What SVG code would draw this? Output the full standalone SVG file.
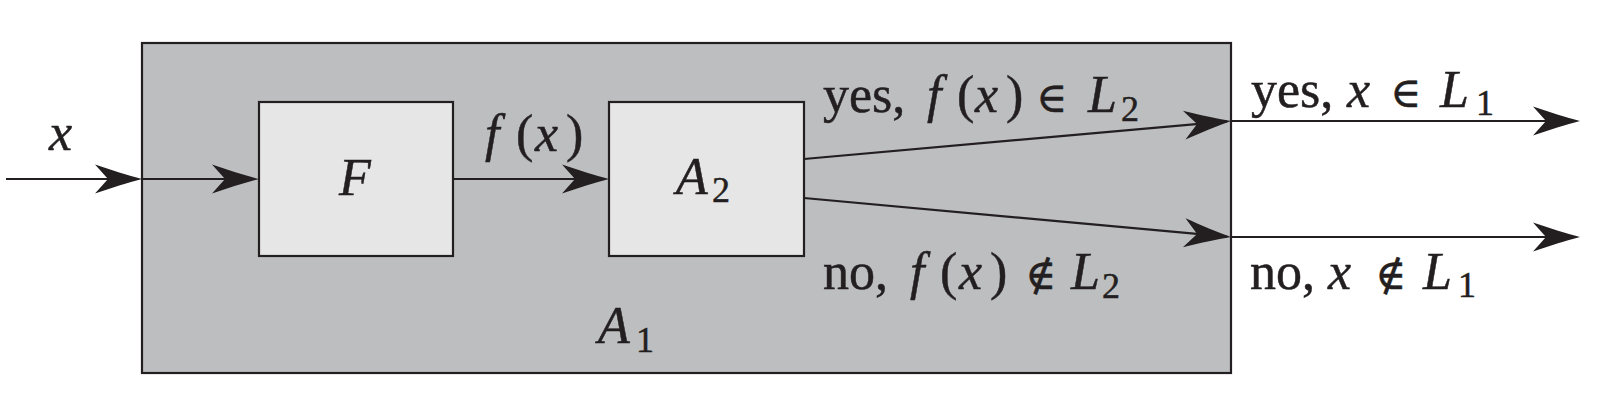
<svg xmlns="http://www.w3.org/2000/svg" width="1600" height="416" viewBox="0 0 1600 416">
<style>
.box{stroke:#231f20;stroke-width:2.2}
.outer{fill:#bdbec0}
.inner{fill:#e6e6e7}
.ln{stroke:#231f20;stroke-width:2.2;fill:none}
.t{font-family:"Liberation Serif","DejaVu Serif",serif;font-size:52px;fill:#231f20;stroke:#231f20;stroke-width:0.5}
.i{font-style:italic}
.s{font-size:36px}
.sym{font-family:"DejaVu Serif","Liberation Serif",serif;font-size:42px}
</style>
<defs>
<marker id="ah" markerUnits="userSpaceOnUse" viewBox="-48 -16 54 32" refX="0" refY="0" markerWidth="54" markerHeight="32" orient="auto" overflow="visible">
<path d="M4,0 C-10,-3.5 -27,-9 -43,-14.5 L-30,0 L-43,14.5 C-27,9 -10,3.5 4,0 Z" fill="#231f20"/>
</marker>
</defs>
<rect width="1600" height="416" fill="#ffffff"/>
<g id="A1">
<rect class="box outer" x="142" y="43" width="1089" height="330"/>
<text class="t i" x="598" y="343">A<tspan class="s" font-style="normal" x="636" y="352">1</tspan></text>
</g>
<g id="F">
<rect class="box inner" x="259" y="102" width="194" height="154"/>
<text class="t i" x="339" y="195">F</text>
</g>
<g id="A2">
<rect class="box inner" x="609" y="102" width="195" height="154"/>
<text class="t i" x="676" y="194">A<tspan class="s" font-style="normal" x="712" y="202">2</tspan></text>
</g>
<g id="connectors">
<line class="ln" x1="6" y1="179" x2="138" y2="179" marker-end="url(#ah)"/>
<line class="ln" x1="142" y1="179" x2="255" y2="179" marker-end="url(#ah)"/>
<line class="ln" x1="453" y1="179" x2="605" y2="179" marker-end="url(#ah)"/>
<line class="ln" x1="804" y1="159" x2="1227" y2="121.35" marker-end="url(#ah)"/>
<line class="ln" x1="804" y1="198" x2="1227" y2="236.65" marker-end="url(#ah)"/>
<line class="ln" x1="1231" y1="121" x2="1576" y2="121" marker-end="url(#ah)"/>
<line class="ln" x1="1231" y1="237" x2="1576" y2="237" marker-end="url(#ah)"/>
</g>
<g id="labels">
<text class="t i" x="49" y="150">x</text>
<text class="t" y="151"><tspan class="i" x="485">f</tspan><tspan x="516">(</tspan><tspan class="i" x="535">x</tspan><tspan x="566">)</tspan></text>
<text class="t" y="112"><tspan x="823">yes,</tspan><tspan class="i" x="927">f</tspan><tspan x="957">(</tspan><tspan class="i" x="975">x</tspan><tspan x="1006">)</tspan><tspan class="sym" x="1036">∈</tspan><tspan class="i" x="1088">L</tspan><tspan class="s" x="1121" y="121">2</tspan></text>
<text class="t" y="289"><tspan x="823">no,</tspan><tspan class="i" x="910">f</tspan><tspan x="940">(</tspan><tspan class="i" x="959">x</tspan><tspan x="990">)</tspan><tspan class="sym" x="1025">∉</tspan><tspan class="i" x="1071">L</tspan><tspan class="s" x="1102" y="298">2</tspan></text>
<text class="t" y="107"><tspan x="1251">yes,</tspan><tspan class="i" x="1347">x</tspan><tspan class="sym" x="1390">∈</tspan><tspan class="i" x="1440">L</tspan><tspan class="s" x="1476" y="115">1</tspan></text>
<text class="t" y="289"><tspan x="1250">no,</tspan><tspan class="i" x="1328">x</tspan><tspan class="sym" x="1375">∉</tspan><tspan class="i" x="1423">L</tspan><tspan class="s" x="1458" y="297">1</tspan></text>
</g>
</svg>
